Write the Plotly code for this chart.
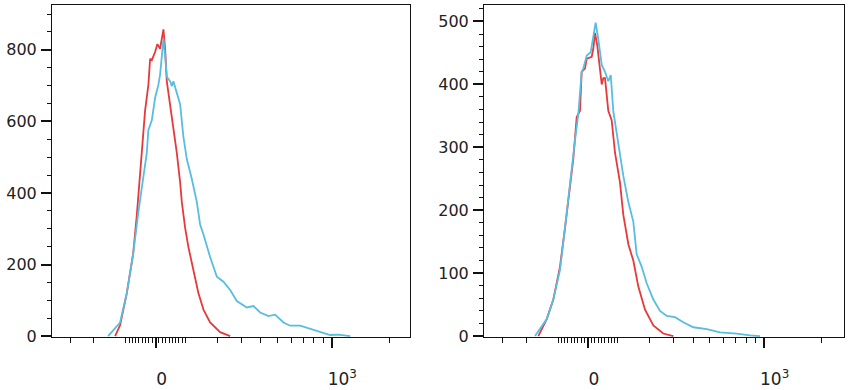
import numpy as np
import plotly.graph_objects as go

# ---- data (x in biexponential display units = asinh(value/250), y = cell count) ----
L_red_x = [-0.481, -0.422, -0.342, -0.267, -0.223, -0.164, -0.125, -0.086, -0.065, -0.045,
           -0.006, 0.021, 0.053, 0.093, 0.113, 0.133, 0.172, 0.211, 0.252, 0.291, 0.311,
           0.350, 0.390, 0.449, 0.508, 0.568, 0.647, 0.766, 0.885]
L_red_y = [0, 30, 120, 229, 338, 530, 630, 702, 775, 771,
           794, 816, 803, 857, 803, 712, 648, 576, 511, 430, 375,
           303, 248, 184, 120, 74, 38, 11, 0]

L_blue_x = [-0.564, -0.422, -0.342, -0.267, -0.204, -0.145, -0.105, -0.086, -0.045, -0.006,
            0.033, 0.053, 0.074, 0.093, 0.113, 0.133, 0.172, 0.192, 0.211, 0.252, 0.291,
            0.330, 0.371, 0.430, 0.489, 0.529, 0.568, 0.647, 0.727, 0.805, 0.885, 0.964,
            1.083, 1.162, 1.241, 1.340, 1.419, 1.518, 1.597, 1.716, 1.835, 1.954, 2.073,
            2.167, 2.227, 2.310]
L_blue_y = [0, 38, 120, 229, 348, 448, 511, 576, 603, 666,
            702, 730, 794, 830, 784, 725, 712, 698, 712, 675, 648,
            557, 494, 439, 375, 311, 284, 221, 166, 152, 129, 98,
            80, 84, 66, 56, 60, 38, 29, 29, 20, 11, 3,
            4, 2, 0]

R_red_x = [-0.590, -0.490, -0.412, -0.333, -0.273, -0.214, -0.175, -0.134, -0.095, -0.075,
           -0.036, -0.015, 0.044, 0.063, 0.083, 0.110, 0.143, 0.163, 0.182, 0.202, 0.241,
           0.281, 0.321, 0.380, 0.419, 0.479, 0.538, 0.597, 0.677, 0.776, 0.894, 1.013]
R_red_y = [0, 27, 58, 110, 172, 244, 281, 348, 358, 420,
           425, 441, 444, 457, 482, 462, 420, 400, 410, 410, 358,
           343, 291, 244, 193, 146, 120, 79, 42, 17, 4, 0]

R_blue_x = [-0.629, -0.490, -0.412, -0.333, -0.273, -0.214, -0.154, -0.115, -0.075, -0.056,
            -0.015, 0.032, 0.063, 0.091, 0.122, 0.163, 0.202, 0.241, 0.270, 0.300, 0.360,
            0.419, 0.479, 0.538, 0.578, 0.638, 0.697, 0.776, 0.855, 0.935, 1.033, 1.132,
            1.251, 1.410, 1.568, 1.766, 1.924, 2.043]
R_blue_y = [0, 27, 58, 105, 172, 244, 312, 353, 420, 425,
            446, 451, 477, 498, 472, 431, 420, 405, 415, 358, 306,
            255, 213, 182, 130, 110, 84, 58, 40, 32, 30, 22,
            14, 11, 6, 4, 1, 0]

# axis tick values (fluorescence units) and labels
x_label_vals = [0, 1000]
x_label_text = ["0", "\u200210<sup>3</sup>"]
x_decade_vals = [-100, 100]
x_minor_vals = [-300, -200] + [v for v in range(-90, 100, 10) if v != 0] + \
               [200, 300, 400, 500, 600, 700, 800, 900, 2000]

C = 250.0
def biex(v):
    return (np.arcsinh(np.asarray(v, dtype=float) / C)).tolist()

RED = "#E6393C"
BLUE = "#58BDDF"
LW = 1.8

fig = go.Figure()
fig.add_trace(go.Scatter(x=L_red_x, y=L_red_y, mode="lines", line=dict(color=RED, width=LW),
                         xaxis="x", yaxis="y", showlegend=False, hoverinfo="skip"))
fig.add_trace(go.Scatter(x=L_blue_x, y=L_blue_y, mode="lines", line=dict(color=BLUE, width=LW),
                         xaxis="x", yaxis="y", showlegend=False, hoverinfo="skip"))
fig.add_trace(go.Scatter(x=R_red_x, y=R_red_y, mode="lines", line=dict(color=RED, width=LW),
                         xaxis="x2", yaxis="y2", showlegend=False, hoverinfo="skip"))
fig.add_trace(go.Scatter(x=R_blue_x, y=R_blue_y, mode="lines", line=dict(color=BLUE, width=LW),
                         xaxis="x2", yaxis="y2", showlegend=False, hoverinfo="skip"))

W, H = 850, 390
ydom = [1 - 345 / H, 1 - 5 / H]
L_RANGE = [-1.23, 3.02]
R_RANGE = [-1.235, 3.04]

def xaxis_cfg(dom, rng, anchor):
    return dict(domain=dom, range=rng, anchor=anchor,
                tickmode="array", tickvals=biex(x_label_vals), ticktext=x_label_text,
                ticks="outside", ticklen=10, tickwidth=2, tickcolor="#111",
                minor=dict(tickmode="array", tickvals=biex(x_minor_vals), ticks="outside",
                           ticklen=5, tickwidth=1, tickcolor="#111"),
                showline=True, linecolor="#111", linewidth=1, mirror=True,
                showgrid=False, zeroline=False,
                tickfont=dict(family="DejaVu Sans", size=17, color="#222"),
                ticklabelstandoff=17, ticklabelshift=6)

def xdecade_cfg(dom, rng, anchor, over):
    return dict(domain=dom, range=rng, anchor=anchor, overlaying=over, side="bottom",
                tickmode="array", tickvals=biex(x_decade_vals), showticklabels=False,
                ticks="outside", ticklen=10, tickwidth=2, tickcolor="#111",
                showline=False, showgrid=False, zeroline=False)

def yaxis_cfg(rng, dtick, mdtick, anchor):
    return dict(domain=ydom, range=rng, anchor=anchor,
                tickmode="linear", tick0=0, dtick=dtick,
                ticks="outside", ticklen=10, tickwidth=2, tickcolor="#111",
                minor=dict(tickmode="linear", tick0=0, dtick=mdtick, ticks="outside",
                           ticklen=4, tickwidth=1, tickcolor="#111"),
                showline=True, linecolor="#111", linewidth=1, mirror=True,
                showgrid=False, zeroline=False,
                tickfont=dict(family="DejaVu Sans", size=16, color="#222"),
                ticklabelstandoff=1)

fig.update_layout(
    width=W, height=H, autosize=False, margin=dict(l=0, r=0, t=0, b=0),
    paper_bgcolor="white", plot_bgcolor="white",
    xaxis=xaxis_cfg([52 / W, 410 / W], L_RANGE, "y"),
    yaxis=yaxis_cfg([-2.7, 925.6], 200, 50, "x"),
    xaxis2=xaxis_cfg([484 / W, 844 / W], R_RANGE, "y2"),
    yaxis2=yaxis_cfg([-1.55, 526.4], 100, 20, "x2"),
    xaxis3=xdecade_cfg([52 / W, 410 / W], L_RANGE, "y", "x"),
    xaxis4=xdecade_cfg([484 / W, 844 / W], R_RANGE, "y2", "x2"),
)

fig.write_html("out.html",
               config={"responsive": False, "displayModeBar": False, "staticPlot": True},
               post_script="document.body.style.margin='0px';document.body.style.overflow='hidden';")
